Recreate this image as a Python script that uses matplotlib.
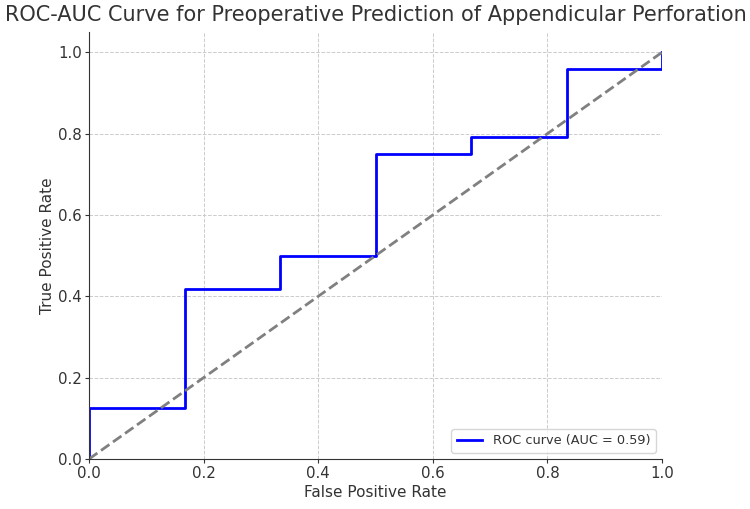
import matplotlib
matplotlib.use("Agg")
import matplotlib.pyplot as plt

fpr = [0.0, 0.0, 1/6, 1/6, 2/6, 2/6, 3/6, 3/6, 4/6, 4/6, 5/6, 5/6, 1.0, 1.0]
tpr = [0.0, 0.125, 0.125, 0.417, 0.417, 0.5, 0.5, 0.75, 0.75, 0.792, 0.792, 0.958, 0.958, 1.0]
auc_value = 0.59
diag = [0.0, 1.0]
ticks = [0.0, 0.2, 0.4, 0.6, 0.8, 1.0]

text_color = "#333333"
plt.rcParams["font.family"] = ["DejaVu Sans"]

fig = plt.figure(figsize=(7.5, 5.09), dpi=100)
ax = fig.add_axes([89/750, 50/509, 573/750, 427/509])

ax.plot(fpr, tpr, color="blue", lw=2, label=f"ROC curve (AUC = {auc_value:.2f})")
ax.plot(diag, diag, color="gray", lw=2, linestyle="--")

ax.set_xlim(0.0, 1.0)
ax.set_ylim(0.0, 1.05)
ax.set_xticks(ticks)
ax.set_yticks(ticks)
ax.grid(True, linestyle="--", color="#cccccc", linewidth=0.7)
ax.set_axisbelow(True)
for s in ["top", "right"]:
    ax.spines[s].set_visible(False)
for s in ["left", "bottom"]:
    ax.spines[s].set_color(text_color)
ax.tick_params(colors=text_color, labelsize=10.8, length=3, pad=2)
ax.set_xlabel("False Positive Rate", fontsize=11, color=text_color, labelpad=3)
ax.set_ylabel("True Positive Rate", fontsize=11, color=text_color, labelpad=2.5)
ax.set_title("ROC-AUC Curve for Preoperative Prediction of Appendicular Perforation",
             fontsize=15, color=text_color, pad=8)
leg = ax.legend(loc="lower right", fontsize=9.3)
for t in leg.get_texts():
    t.set_color(text_color)

fig.savefig("out.png", dpi=100)
